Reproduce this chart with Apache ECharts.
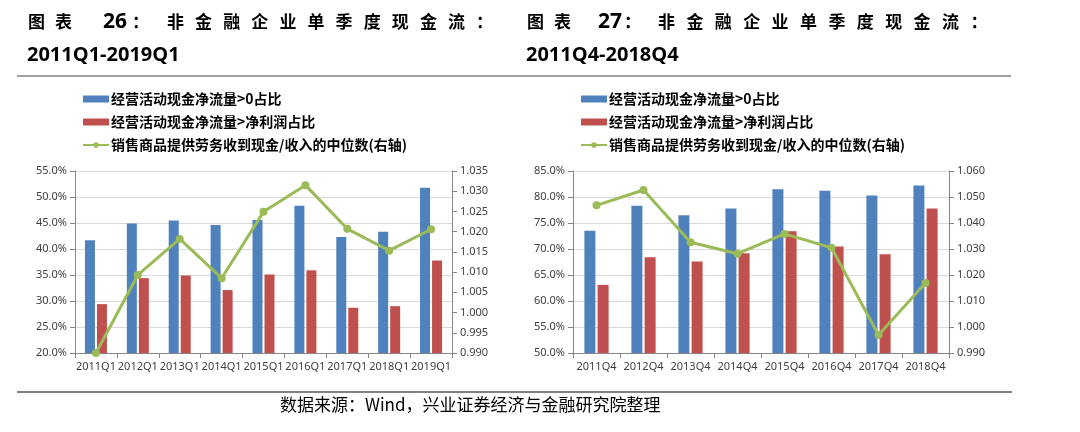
<!DOCTYPE html>
<html>
<head>
<meta charset="utf-8">
<script src="https://cdn.jsdelivr.net/npm/echarts@6/dist/echarts.min.js"></script>
<style>
  html, body { margin: 0; padding: 0; background: #fff; }
  #main { width: 1080px; height: 432px; }
</style>
</head>
<body>
<div id="main"></div>
<script>
// 图表26：2011Q1-2019Q1
const leftCats = ["2011Q1", "2012Q1", "2013Q1", "2014Q1", "2015Q1", "2016Q1", "2017Q1", "2018Q1", "2019Q1"];
const leftPositive = [41.7, 44.9, 45.5, 44.6, 45.6, 48.3, 42.3, 43.3, 51.8];
const leftAboveProfit = [29.4, 34.4, 34.9, 32.1, 35.1, 35.9, 28.7, 29.0, 37.8];
const leftMedian = [0.990, 1.0093, 1.0182, 1.0085, 1.0249, 1.0315, 1.0207, 1.0153, 1.0206];

// 图表27：2011Q4-2018Q4
const rightCats = ["2011Q4", "2012Q4", "2013Q4", "2014Q4", "2015Q4", "2016Q4", "2017Q4", "2018Q4"];
const rightPositive = [73.5, 78.3, 76.5, 77.8, 81.5, 81.2, 80.3, 82.2];
const rightAboveProfit = [63.1, 68.4, 67.6, 69.2, 73.4, 70.5, 69.0, 77.8];
const rightMedian = [1.0468, 1.0527, 1.0326, 1.0282, 1.0358, 1.0305, 0.9969, 1.0169];

// 轴刻度范围
const leftPctAxis = { min: 20, max: 55, interval: 5 };
const leftRatioAxis = { min: 0.990, max: 1.035, interval: 0.005 };
const rightPctAxis = { min: 50, max: 85, interval: 5 };
const rightRatioAxis = { min: 0.990, max: 1.060, interval: 0.010 };

const names = ["经营活动现金净流量>0占比", "经营活动现金净流量>净利润占比", "销售商品提供劳务收到现金/收入的中位数(右轴)"];
const BLUE = "#4F81BD", RED = "#C0504D", GREEN = "#9BBB59";
const CJK = '"Noto Sans CJK SC"';
const LATIN = '"Noto Sans", "Open Sans", sans-serif';

const txt = (text, x, y, font) => ({
  type: "text",
  style: { text, x, y, font, fill: "#000", verticalAlign: "middle" },
});

// 标题（逐字摆放，模拟两端对齐的字距）
const titleGraphics = (x, num, numX, colonX, restX, step, range) => {
  const f1 = "bold 17px " + CJK;
  const els = [
    txt("图", x, 22, f1),
    txt("表", x + 27, 22, f1),
    txt(num, numX, 22, 'bold 21px "Open Sans", sans-serif'),
    txt("：", colonX, 22, f1),
  ];
  "非金融企业单季度现金流：".split("").forEach((c, i) => {
    els.push(txt(c, restX + i * step, 22, f1));
  });
  els.push(txt(range, x - 1, 55, 'bold 20px "Open Sans", sans-serif'));
  return els;
};

const axisLineStyle = { lineStyle: { color: "#868686", width: 1 } };
const labelStyle = { color: "#404040", fontSize: 11, fontFamily: LATIN };

const xAxisFor = (gridIndex, data) => ({
  type: "category",
  gridIndex,
  data,
  axisLine: axisLineStyle,
  axisTick: { show: true, length: 5, lineStyle: { color: "#868686" } },
  axisLabel: Object.assign({ interval: 0, margin: 8, hideOverlap: false }, labelStyle),
});

const yAxisFor = (gridIndex, position, range, digits, pct) => ({
  type: "value",
  gridIndex,
  position,
  min: range.min,
  max: range.max,
  interval: range.interval,
  axisLine: Object.assign({ show: true }, axisLineStyle),
  axisTick: { show: true, length: 5, lineStyle: { color: "#868686" } },
  axisLabel: Object.assign({
    margin: 8,
    formatter: (v) => v.toFixed(digits) + (pct ? "%" : ""),
  }, labelStyle),
  splitLine: { show: pct, lineStyle: { color: "#d9d9d9", width: 1 } },
});

const barSeries = (name, color, data, xi, yi, w) => ({
  name, type: "bar", xAxisIndex: xi, yAxisIndex: yi, data,
  barWidth: w, barGap: "20%",
  itemStyle: { color },
});

const lineSeries = (data, xi, yi) => ({
  name: names[2], type: "line", xAxisIndex: xi, yAxisIndex: yi, data,
  symbol: "circle", symbolSize: 8, z: 5,
  lineStyle: { color: GREEN, width: 3 },
  itemStyle: { color: GREEN },
});

const legendFor = (left) => ({
  orient: "vertical",
  left, top: 92, padding: 0,
  itemWidth: 26, itemHeight: 7, itemGap: 9,
  textStyle: { fontFamily: CJK, fontSize: 14, fontWeight: "bold", color: "#000", padding: [0, 0, 0, -3] },
  data: [
    { name: names[0], icon: "rect" },
    { name: names[1], icon: "rect" },
    { name: names[2] },
  ],
});

const myChart = echarts.init(document.getElementById("main"));
const option = {
  backgroundColor: "#fff",
  animation: false,
  legend: [legendFor(82), legendFor(580)],
  grid: [
    { left: 75, right: 628, top: 171, bottom: 79 },
    { left: 573, right: 131, top: 171, bottom: 79 },
  ],
  xAxis: [xAxisFor(0, leftCats), xAxisFor(1, rightCats)],
  yAxis: [
    yAxisFor(0, "left", leftPctAxis, 1, true),
    yAxisFor(0, "right", leftRatioAxis, 3, false),
    yAxisFor(1, "left", rightPctAxis, 1, true),
    yAxisFor(1, "right", rightRatioAxis, 3, false),
  ],
  series: [
    barSeries(names[0], BLUE, leftPositive, 0, 0, 10),
    barSeries(names[1], RED, leftAboveProfit, 0, 0, 10),
    lineSeries(leftMedian, 0, 1),
    barSeries(names[0], BLUE, rightPositive, 1, 2, 11),
    barSeries(names[1], RED, rightAboveProfit, 1, 2, 11),
    lineSeries(rightMedian, 1, 3),
  ],
  graphic: [
    ...titleGraphics(28, "26", 103, 132, 167, 28.1, "2011Q1-2019Q1"),
    ...titleGraphics(527, "27", 598, 624, 658, 28.4, "2011Q4-2018Q4"),
    { type: "line", shape: { x1: 17, y1: 76, x2: 1011, y2: 76 }, style: { stroke: "#7f7f7f", lineWidth: 1.5 } },
    { type: "line", shape: { x1: 17, y1: 392, x2: 1012, y2: 392 }, style: { stroke: "#595959", lineWidth: 1.5 } },
    txt("数据来源：Wind，兴业证券经济与金融研究院整理", 280, 405, "17px " + CJK),
  ],
};
// 绘制图表
myChart.setOption(option);
window.onresize = function () {
  myChart.resize();
};
</script>
</body>
</html>
